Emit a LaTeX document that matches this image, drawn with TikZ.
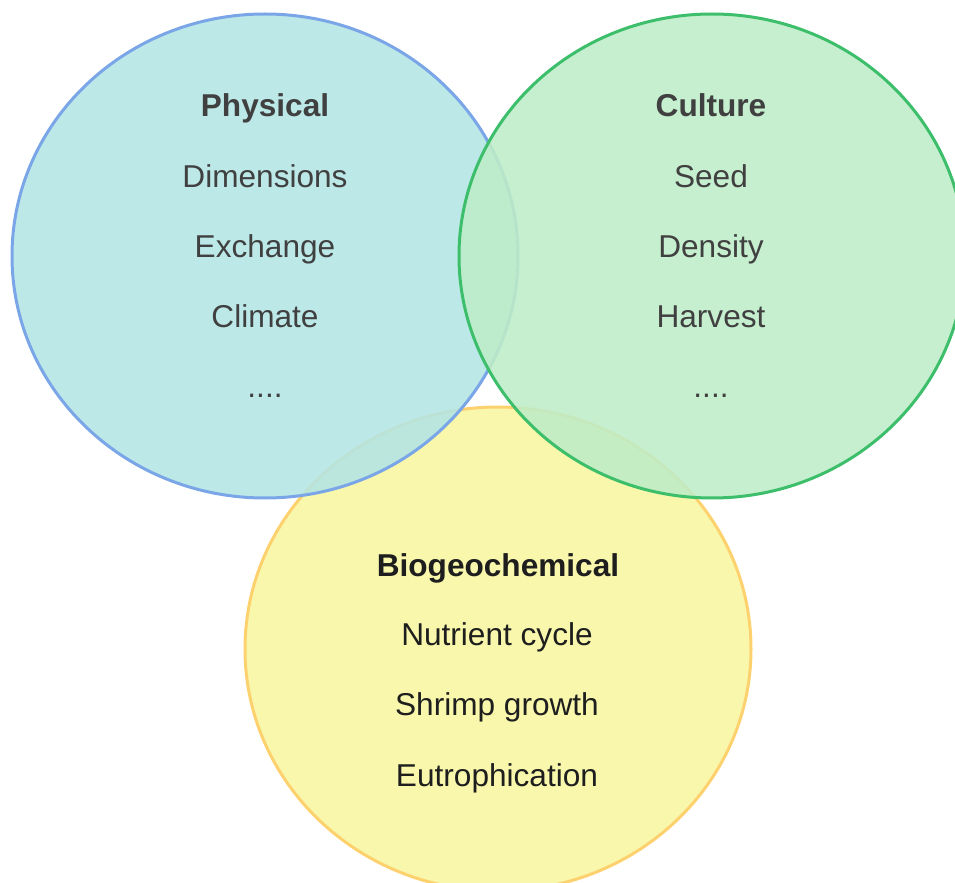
\documentclass[tikz,border=0pt]{standalone}
\usepackage{fontspec}
\setmainfont{Liberation Sans}
\definecolor{physfill}{RGB}{179,229,229}
\definecolor{physline}{RGB}{122,166,232}
\definecolor{cultfill}{RGB}{190,237,200}
\definecolor{cultline}{RGB}{60,190,106}
\definecolor{biofill}{RGB}{247,246,160}
\definecolor{bioline}{RGB}{254,209,111}
\definecolor{greytext}{RGB}{64,64,64}
\definecolor{darktext}{RGB}{30,30,30}
\begin{document}
\begin{tikzpicture}[x=0.5pt,y=-0.5pt,
  setcircle/.style={line width=1.5pt, fill opacity=0.88},
  lbl/.style={anchor=base, inner sep=0pt, font=\fontsize{15.8}{19}\selectfont},
  head/.style={lbl, font=\fontsize{15.8}{19}\selectfont\bfseries}]
\useasboundingbox (0,0) rectangle (955,883);
\clip (0,0) rectangle (955,883);
% the three sets
\draw[setcircle, fill=biofill, draw=bioline] (498,649) ellipse [x radius=253, y radius=242];
\draw[setcircle, fill=physfill, draw=physline] (265,256) ellipse [x radius=253, y radius=242];
\draw[setcircle, fill=cultfill, draw=cultline] (712,256) ellipse [x radius=253, y radius=242];
% Physical
\node[head, text=greytext] (phys) at (265,117) {Physical};
\node[lbl, text=greytext] (dim) at (265,188) {Dimensions};
\node[lbl, text=greytext] (exch) at (265,258) {Exchange};
\node[lbl, text=greytext] (clim) at (265,328) {Climate};
\node[lbl, text=greytext] (physmore) at (265,398) {....};
% Culture
\node[head, text=greytext] (cult) at (711,117) {Culture};
\node[lbl, text=greytext] (seed) at (711,188) {Seed};
\node[lbl, text=greytext] (dens) at (711,258) {Density};
\node[lbl, text=greytext] (harv) at (711,328) {Harvest};
\node[lbl, text=greytext] (cultmore) at (711,398) {....};
% Biogeochemical
\node[head, text=darktext] (bio) at (498,576) {Biogeochemical};
\node[lbl, text=darktext] (nutr) at (497,645) {Nutrient cycle};
\node[lbl, text=darktext] (shrimp) at (497,715) {Shrimp growth};
\node[lbl, text=darktext] (eutr) at (497,786) {Eutrophication};
\end{tikzpicture}
\end{document}
